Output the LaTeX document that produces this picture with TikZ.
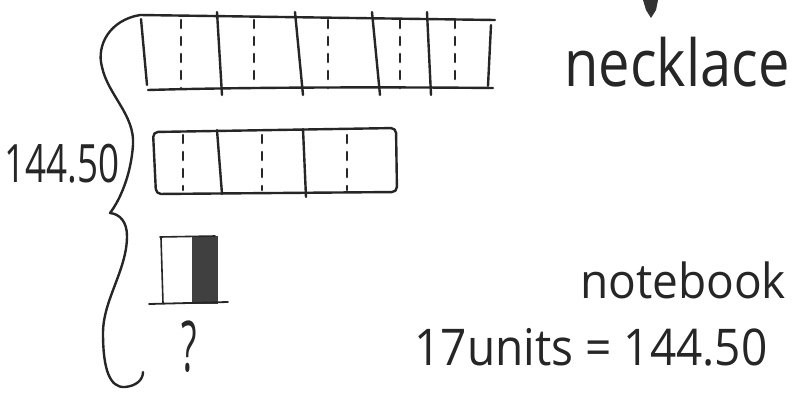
\documentclass[tikz,border=0pt]{standalone}
\usepackage{fontspec}
\usepackage{graphicx}
\setmainfont{Open Sans}
\begin{document}
\begin{tikzpicture}[x=1pt,y=-1pt,
  ink/.style={draw=black!85,line width=2.4pt,line cap=round,line join=round},
  dashdiv/.style={draw=black!85,line width=2.6pt,dash pattern=on 8pt off 9pt,line cap=round},
  hand/.style={inner sep=0pt,text=black!85}]
\useasboundingbox[fill=white] (0,0) rectangle (793,392);
% brace
\draw[ink] (140,15) .. controls (110,20) and (96,45) .. (102,67)
  .. controls (108,95) and (135,115) .. (133,145)
  .. controls (131,175) and (120,200) .. (110,213)
  .. controls (120,214) and (127,222) .. (127,236)
  .. controls (127,270) and (103,300) .. (103,333)
  .. controls (103,370) and (110,388) .. (125,387)
  .. controls (136,386) and (143,380) .. (143,372);
% necklace bar
\draw[ink] (140,15) -- (495,20);
\draw[ink] (148,90) .. controls (250,87) and (400,87) .. (493,88);
\draw[ink] (141,19) -- (147,85);
\draw[ink] (491,25) -- (488,86);
\foreach \a/\b in {217/222,295/303,372/380,427/431}
  \draw[ink] (\a,12) -- (\b,95);
\foreach \x in {181,254,328,400,455}
  \draw[dashdiv] (\x,20) -- (\x,88);
% middle bar
\draw[ink,rounded corners=5pt] (153,132) -- (396,128) -- (397,192) -- (156,194) -- cycle;
\draw[ink] (217,130) -- (222,194);
\draw[ink] (303,129) -- (306,197);
\foreach \x in {183,262,347}
  \draw[dashdiv] (\x,135) -- (\x,190);
% notebook
\fill[black!75] (192,236) rectangle (218,304);
\draw[ink,line width=1.6pt] (160,237) -- (215,236);
\draw[ink,line width=1.6pt] (161,238) -- (163,303);
\draw[ink,line width=1.8pt] (149,304) -- (228,302);
% question mark
\node[hand,font=\fontsize{40}{40}\selectfont] (q) at (189,347) {\scalebox{0.9}[1.75]{?}};
% scribble at top
\fill[black!80] (643,0) -- (658,0) -- (656,10) -- (651,18) -- (646,10) -- cycle;
% labels
\node[hand,font=\fontsize{46}{46}\selectfont] (total) at (62,164) {\scalebox{0.8}[1.15]{144.50}};
\node[hand,font=\fontsize{50}{50}\selectfont] (neck) at (677,62) {\scalebox{1.12}[1.3]{necklace}};
\node[hand,font=\fontsize{46}{46}\selectfont] (note) at (683,280) {\scalebox{1.0}[1.05]{notebook}};
\node[hand,font=\fontsize{46}{46}\selectfont] (eq) at (591,347) {\scalebox{1.0}[1.1]{17units = 144.50}};
\end{tikzpicture}
\end{document}
